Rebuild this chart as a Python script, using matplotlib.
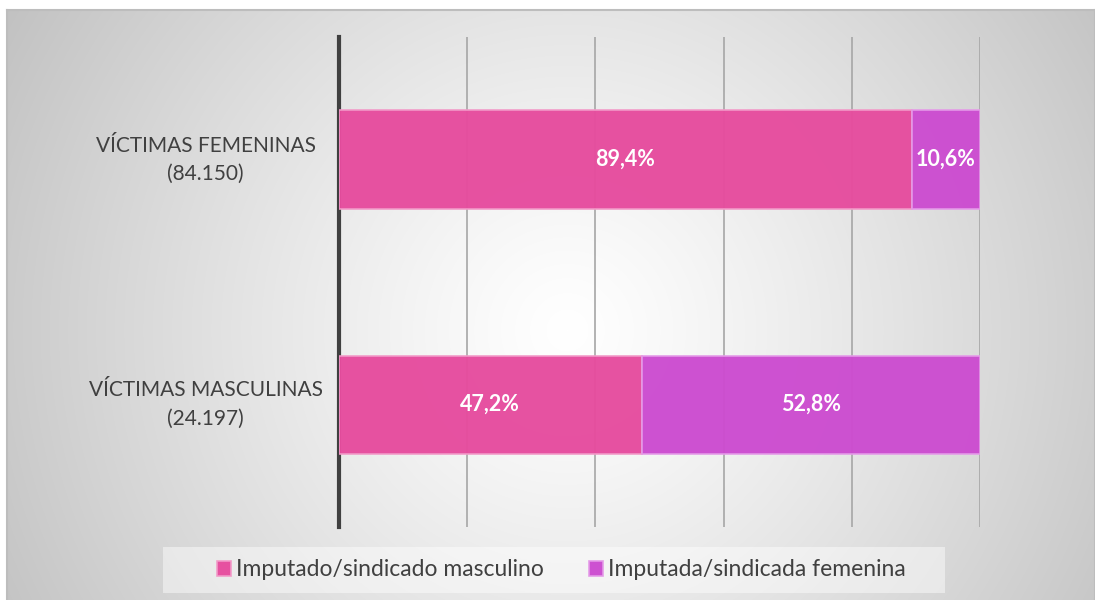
import numpy as np
import matplotlib
matplotlib.use("Agg")
import matplotlib.pyplot as plt
from matplotlib.patches import Rectangle
import matplotlib.transforms as mtransforms

categories = ["VÍCTIMAS MASCULINAS\n(24.197)", "VÍCTIMAS FEMENINAS\n(84.150)"]
series_names = ["Imputado/sindicado masculino", "Imputada/sindicada femenina"]
masculino = [47.2, 89.4]
femenina = [52.8, 10.6]
colors = ["#E64C9E", "#CC4CD0"]
edgecolors = ["#F29AC8", "#E49AE8"]

plt.rcParams['font.family'] = ['Lato', 'DejaVu Sans']

W, H = 1095, 600
fig = plt.figure(figsize=(W / 100, H / 100), dpi=100)
fig.patch.set_facecolor("white")

# background panel with radial gradient
bx0, by0 = 7 / W, 0.0
bw, bh = 1 - bx0, (H - 10) / H
bg = fig.add_axes([bx0, by0, bw, bh], zorder=0)
yy, xx = np.mgrid[0:590, 0:1088]
cx, cy = 560, 320
d = np.sqrt((xx - cx) ** 2 + (yy - cy) ** 2)
R = np.sqrt(cx ** 2 + cy ** 2)
v = 1.0 - 0.24 * np.clip(d / R, 0, 1) ** 1.2
bg.imshow(np.dstack([v, v, v]), aspect="auto", extent=[0, 1, 0, 1], origin="upper")
bg.set_xlim(0, 1)
bg.set_ylim(0, 1)
bg.set_xticks([])
bg.set_yticks([])
for s in bg.spines.values():
    s.set_color("#bdbdbd")
    s.set_linewidth(1.5)
bg.spines["bottom"].set_visible(False)

# main axes
ax_l, ax_r = 339 / W, 980 / W
ax_t, ax_b = 1 - 37 / H, 1 - 527 / H
ax = fig.add_axes([ax_l, ax_b, ax_r - ax_l, ax_t - ax_b], zorder=2)
ax.patch.set_alpha(0)

y = np.arange(len(categories))
m = np.array(masculino) / 100
f = np.array(femenina) / 100
b1 = ax.barh(y, m, height=0.4, color=colors[0], edgecolor=edgecolors[0], linewidth=1.2,
             alpha=0.97, zorder=3, label=series_names[0])
b2 = ax.barh(y, f, left=m, height=0.4, color=colors[1], edgecolor=edgecolors[1], linewidth=1.2,
             alpha=0.97, zorder=3, label=series_names[1])

for bars, vals, lefts in [(b1, masculino, np.zeros(2)), (b2, femenina, m)]:
    for rect, val, lft in zip(bars, vals, lefts):
        ax.text(lft + rect.get_width() / 2, rect.get_y() + rect.get_height() / 2,
                f"{val:.1f}%".replace(".", ","), ha="center", va="center",
                color="white", fontsize=15.5, fontweight="bold", zorder=4)

ax.set_xlim(0, 1)
ax.set_ylim(-0.5, 1.5)
ax.set_xticks(np.arange(0, 1.01, 0.2))
ax.xaxis.grid(True, color="#a6a6a6", linewidth=1.2, zorder=1)
ax.set_axisbelow(True)
ax.tick_params(axis="x", length=0, labelbottom=False)
ax.set_yticks(y)
ax.set_yticklabels([])
ax.tick_params(axis="y", length=0)
trans = mtransforms.blended_transform_factory(ax.transAxes, ax.transData)
for yi, lab in zip(y, categories):
    ax.text(-0.208, yi, lab, transform=trans, ha="center", va="center",
            fontsize=15, color="#404040", linespacing=1.5)
for k in ["top", "right", "bottom"]:
    ax.spines[k].set_visible(False)
ax.spines["left"].set_color("#404040")
ax.spines["left"].set_linewidth(3)

# legend box
lx0, lx1 = 163 / W, 945 / W
ly0, ly1 = 1 - 593 / H, 1 - 547 / H
fig.patches.append(Rectangle((lx0, ly0), lx1 - lx0, ly1 - ly0, transform=fig.transFigure,
                             facecolor="white", alpha=0.45, edgecolor="none", zorder=1))
leg = fig.legend(handles=[b1, b2], labels=series_names, loc="center",
                 bbox_to_anchor=((lx0 + lx1) / 2 + 0.0068, (ly0 + ly1) / 2), ncol=2, frameon=False,
                 fontsize=16.5, handlelength=0.6, handleheight=0.6, handletextpad=0.2,
                 columnspacing=2.0, labelcolor="#404040")

fig.savefig("out.png", dpi=100)
